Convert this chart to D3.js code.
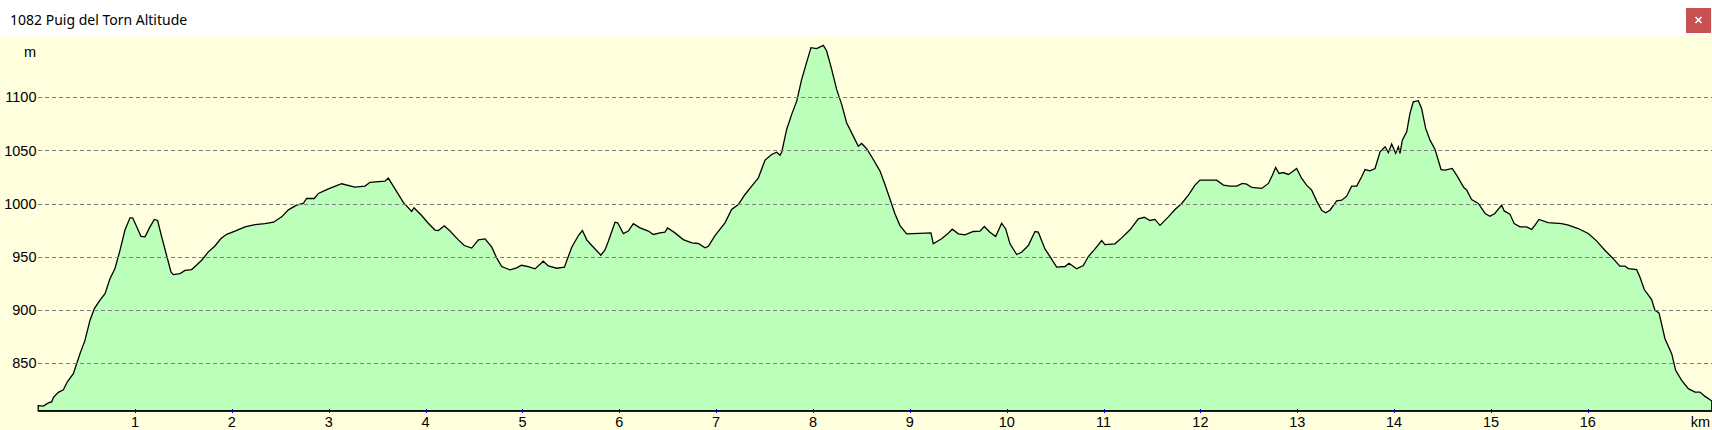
<!DOCTYPE html>
<html>
<head>
<meta charset="utf-8">
<script src="https://cdn.jsdelivr.net/npm/d3@7"></script>
<style>
html, body { margin: 0; padding: 0; background: #fff; }
svg { display: block; }
text { font-family: "Liberation Sans", Arial, sans-serif; fill: #000; }
</style>
</head>
<body>
<svg width="1712" height="430"></svg>
<script>
// profile: distance (km) and altitude (m)
var distKm = [0, 0.053, 0.105, 0.139, 0.156, 0.208, 0.26, 0.301, 0.363, 0.397, 0.432, 0.483, 0.535, 0.58, 0.638, 0.69,
  0.741, 0.793, 0.845, 0.896, 0.948, 0.975, 1.017, 1.061, 1.103, 1.154, 1.199, 1.233, 1.275, 1.326, 1.371, 1.395,
  1.464, 1.516, 1.584, 1.636, 1.688, 1.757, 1.825, 1.887, 1.946, 2.032, 2.135, 2.238, 2.34, 2.43, 2.514, 2.583,
  2.668, 2.737, 2.771, 2.85, 2.893, 2.996, 3.133, 3.27, 3.374, 3.426, 3.58, 3.615, 3.684, 3.77, 3.856, 3.88,
  3.959, 4.028, 4.097, 4.132, 4.193, 4.252, 4.338, 4.4, 4.476, 4.545, 4.614, 4.683, 4.734, 4.786, 4.872, 4.94,
  4.99, 5.06, 5.13, 5.215, 5.267, 5.353, 5.433, 5.509, 5.578, 5.619, 5.664, 5.716, 5.81, 5.852, 5.887, 5.956,
  5.983, 6.042, 6.093, 6.145, 6.214, 6.3, 6.351, 6.42, 6.471, 6.499, 6.575, 6.66, 6.749, 6.816, 6.885, 6.92,
  6.988, 7.091, 7.16, 7.229, 7.298, 7.367, 7.436, 7.505, 7.573, 7.625, 7.659, 7.677, 7.728, 7.78, 7.832, 7.883,
  7.935, 7.979, 8.038, 8.107, 8.141, 8.193, 8.244, 8.296, 8.347, 8.416, 8.468, 8.502, 8.554, 8.623, 8.692, 8.743,
  8.777, 8.846, 8.898, 8.967, 9.218, 9.242, 9.328, 9.39, 9.438, 9.5, 9.569, 9.655, 9.724, 9.769, 9.827, 9.886,
  9.948, 9.99, 10.034, 10.103, 10.154, 10.223, 10.292, 10.326, 10.395, 10.447, 10.516, 10.602, 10.643, 10.723, 10.791, 10.843,
  10.912, 10.981, 11.015, 11.118, 11.187, 11.273, 11.359, 11.421, 11.479, 11.531, 11.583, 11.669, 11.738, 11.807, 11.876, 11.944,
  11.996, 12.168, 12.237, 12.306, 12.375, 12.433, 12.478, 12.53, 12.633, 12.702, 12.743, 12.777, 12.812, 12.856, 12.908, 12.949,
  12.994, 13.046, 13.097, 13.149, 13.2, 13.252, 13.293, 13.338, 13.407, 13.459, 13.51, 13.562, 13.614, 13.665, 13.7, 13.751,
  13.803, 13.855, 13.907, 13.941, 13.975, 14.016, 14.044, 14.061, 14.085, 14.13, 14.164, 14.198, 14.25, 14.284, 14.326, 14.371,
  14.423, 14.485, 14.526, 14.6, 14.65, 14.72, 14.75, 14.8, 14.87, 14.94, 14.99, 15.04, 15.11, 15.137, 15.196, 15.24,
  15.3, 15.369, 15.42, 15.455, 15.495, 15.59, 15.73, 15.8, 15.9, 16.005, 16.09, 16.176, 16.263, 16.33, 16.384, 16.418,
  16.504, 16.538, 16.583, 16.659, 16.693, 16.735, 16.797, 16.866, 16.907, 16.969, 17.038, 17.107, 17.158, 17.21, 17.262, 17.28];

var elevM = [809.5, 809, 812, 813, 817, 822, 824.5, 832, 839.6, 849, 858.5, 871, 890, 901, 909, 915,
  929, 938.7, 956, 975, 986.5, 986.5, 978, 969, 968.6, 978, 985, 984, 968.6, 951, 935.5, 933,
  934, 937, 937.7, 942, 946.5, 954.4, 960, 967, 971, 974, 978, 980, 981, 982.4, 987.4, 994,
  998.4, 1000, 1004.7, 1004.7, 1009.5, 1013.8, 1018.6, 1015.4, 1016.4, 1020, 1021, 1024, 1013.8, 1001, 992.5, 996,
  988.7, 981.4, 975, 974.5, 979, 974, 965.7, 960.4, 958, 965.7, 966.7, 958.8, 948.7, 940.6, 937.4, 939.3,
  941.8, 940.6, 938.4, 945.6, 941.2, 939, 940, 958.8, 969.8, 974.5, 965.7, 960.4, 951.3, 956.3, 964.5, 982.4,
  981.8, 971.7, 974, 981, 977, 974, 970.8, 972.3, 973, 977, 972.3, 966, 962.9, 962.3, 958.2, 959.7,
  969.8, 981.8, 994.3, 999, 1008.5, 1016.4, 1024.2, 1040.9, 1046.2, 1048.4, 1045.6, 1048.4, 1069.8, 1084, 1096.5, 1117,
  1133.3, 1146.9, 1146, 1149, 1143.7, 1126.4, 1107.5, 1093.4, 1076.1, 1063.5, 1054, 1056.6, 1051.6, 1041.5, 1030.5, 1017.9,
  1009, 990.3, 979.2, 971.4, 972.3, 962, 966.7, 971.4, 975.8, 971.4, 970.4, 973.6, 973.9, 978.3, 973, 968.9,
  981.4, 976, 962, 951.9, 954, 960.4, 973.6, 973, 957.2, 950, 940, 940.6, 943.7, 938.4, 941.5, 950,
  957.2, 965, 961.3, 962, 967.6, 975.2, 985.5, 987, 984, 985, 979.4, 987.4, 994.3, 1000, 1007.9, 1017.3,
  1022, 1022, 1017.3, 1016.4, 1016.4, 1018.9, 1018.2, 1015.1, 1014.2, 1018.9, 1026.7, 1034, 1028.3, 1029.2, 1027.4, 1029.9,
  1033, 1023.6, 1017.3, 1012.6, 1002.5, 993.7, 991.2, 993.7, 1002.5, 1003.1, 1006.9, 1016.4, 1016.4, 1025.2, 1032, 1030.8,
  1033, 1048.7, 1053.5, 1047.8, 1056, 1047.2, 1053.5, 1047.2, 1059.7, 1067.6, 1084.9, 1095.9, 1096.9, 1089.6, 1070.8, 1059.7,
  1050.9, 1032, 1031.4, 1033, 1026, 1015, 1012.6, 1003.8, 1000, 990.6, 988, 990.6, 998.4, 993, 990, 981,
  978, 978, 975.5, 979.6, 985, 982, 981, 979.6, 976.4, 971.7, 964.8, 956, 948, 940.9, 941, 938.7,
  937.7, 930.8, 918.9, 909.4, 899.4, 896.9, 872.6, 858.5, 842.8, 833.3, 825.5, 822.3, 822.3, 818.2, 815, 814];

var yTicks = [850, 900, 950, 1000, 1050, 1100];
var xTicks = [1, 2, 3, 4, 5, 6, 7, 8, 9, 10, 11, 12, 13, 14, 15, 16];
var title = "1082 Puig del Torn Altitude";

var profile = distKm.map(function(d, i) {
  return { km: d, h: elevM[i] };
});

var svg = d3.select("svg"),
  width = +svg.attr("width"),
  height = +svg.attr("height");

var x = d3.scaleLinear().domain([0, 16]).range([38.2, 1587.8]);
var y = d3.scaleLinear().domain([900, 1100]).range([309.6, 97.4]);
var base = y(804.5);

// window chrome
svg.append("rect")
  .attr("width", width).attr("height", 36)
  .style("fill", "#ffffff");

svg.append("rect")
  .attr("y", 36).attr("width", width).attr("height", height - 36)
  .style("fill", "#ffffdd");

svg.append("text")
  .attr("x", 10).attr("y", 25)
  .style("font-family", "'Noto Sans', sans-serif")
  .style("font-size", "14px")
  .text(title);

svg.append("rect")
  .attr("x", 1686).attr("y", 8)
  .attr("width", 25).attr("height", 25)
  .style("fill", "#c75050");

svg.append("path")
  .attr("d", "M1695.5,17L1701.5,23M1701.5,17L1695.5,23")
  .style("stroke", "#fff")
  .style("stroke-width", 1.6);

// profile
var area = d3.area()
  .x(function(d) { return x(d.km); })
  .y0(base)
  .y1(function(d) { return y(d.h); });

svg.append("path")
  .datum(profile)
  .attr("d", area)
  .style("fill", "#bbffbb")
  .style("stroke", "#000")
  .style("stroke-width", 1.3);

// grid
svg.append("g")
  .selectAll("line")
  .data(yTicks)
  .enter().append("line")
  .attr("x1", 38).attr("x2", width)
  .attr("y1", function(d) { return Math.round(y(d)) + 0.5; })
  .attr("y2", function(d) { return Math.round(y(d)) + 0.5; })
  .style("stroke", "#808080")
  .style("stroke-dasharray", "4,3");

svg.append("g")
  .selectAll("text")
  .data(yTicks)
  .enter().append("text")
  .attr("x", 36.5)
  .attr("y", function(d) { return y(d); })
  .attr("dy", "0.35em")
  .attr("text-anchor", "end")
  .style("font-size", "14.5px")
  .text(function(d) { return d; });

svg.append("text")
  .attr("x", 24).attr("y", 57)
  .style("font-size", "14.5px")
  .text("m");

// x axis
svg.append("line")
  .attr("x1", 38).attr("x2", width)
  .attr("y1", 411).attr("y2", 411)
  .style("stroke", "#000")
  .style("stroke-width", 1.5);

svg.append("g")
  .selectAll("line")
  .data(xTicks)
  .enter().append("line")
  .attr("x1", function(d) { return Math.round(x(d)) + 0.5; })
  .attr("x2", function(d) { return Math.round(x(d)) + 0.5; })
  .attr("y1", 409).attr("y2", 413)
  .style("stroke", "#0000ff");

svg.append("g")
  .selectAll("text")
  .data(xTicks)
  .enter().append("text")
  .attr("x", function(d) { return x(d); })
  .attr("y", 426.5)
  .attr("text-anchor", "middle")
  .style("font-size", "14.5px")
  .text(function(d) { return d; });

svg.append("text")
  .attr("x", 1710).attr("y", 426.5)
  .attr("text-anchor", "end")
  .style("font-size", "14.5px")
  .text("km");
</script>
</body>
</html>
